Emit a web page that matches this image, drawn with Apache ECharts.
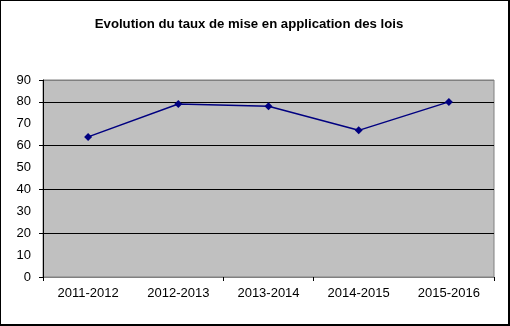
<!DOCTYPE html>
<html><head><meta charset="utf-8">
<script src="https://cdn.jsdelivr.net/npm/echarts@6/dist/echarts.min.js"></script>
<style>html,body{margin:0;padding:0;background:#fff}#c{width:510px;height:326px;box-sizing:border-box;border:1px solid #000;border-right-width:2px;border-bottom-width:2px}</style>
</head><body><div id="c"></div>
<script>
var titleText = 'Evolution du taux de mise en application des lois';
var categories = ['2011-2012','2012-2013','2013-2014','2014-2015','2015-2016'];
var values = [64, 79, 78, 67, 80];
var chart = echarts.init(document.getElementById('c'), null, {renderer:'canvas'});
var font = 'Liberation Sans, Arial, sans-serif';
chart.setOption({
  animation:false,
  backgroundColor:'#fff',
  title:{text:titleText,left:243,top:12,textAlign:'center',textStyle:{fontFamily:font,fontSize:13.2,fontWeight:'bold',color:'#000'}},
  grid:{left:42,right:14,top:79,bottom:47,show:true,backgroundColor:'#c0c0c0',borderColor:'#808080',borderWidth:1},
  xAxis:{type:'category',data:categories,boundaryGap:true,
    axisLine:{lineStyle:{color:'#808080',width:1}},
    axisTick:{show:true,length:4,lineStyle:{color:'#000'},interval:function(i){return i===0||i===2||i===3;}},
    axisLabel:{fontFamily:font,fontSize:13,color:'#000',margin:10}},
  yAxis:[{type:'value',min:0,max:90,interval:10,
    axisLine:{show:true,lineStyle:{color:'#000'}},
    axisTick:{show:false},
    splitLine:{show:false},
    axisLabel:{fontFamily:font,fontSize:13,color:'#000',margin:12}},
   {type:'value',min:0,max:90,interval:20,position:'left',
    axisLine:{show:false},
    axisTick:{show:true,length:4,lineStyle:{color:'#000'}},
    axisLabel:{show:false},
    splitLine:{show:true,lineStyle:{color:['#808080','#000','#000','#000','#000','#808080'],width:1}}}],
  series:[{type:'line',data:values,yAxisIndex:0,symbol:'diamond',symbolSize:8,z:5,
    lineStyle:{color:'#000080',width:1.5},itemStyle:{color:'#000080'}}]
});
</script></body></html>
